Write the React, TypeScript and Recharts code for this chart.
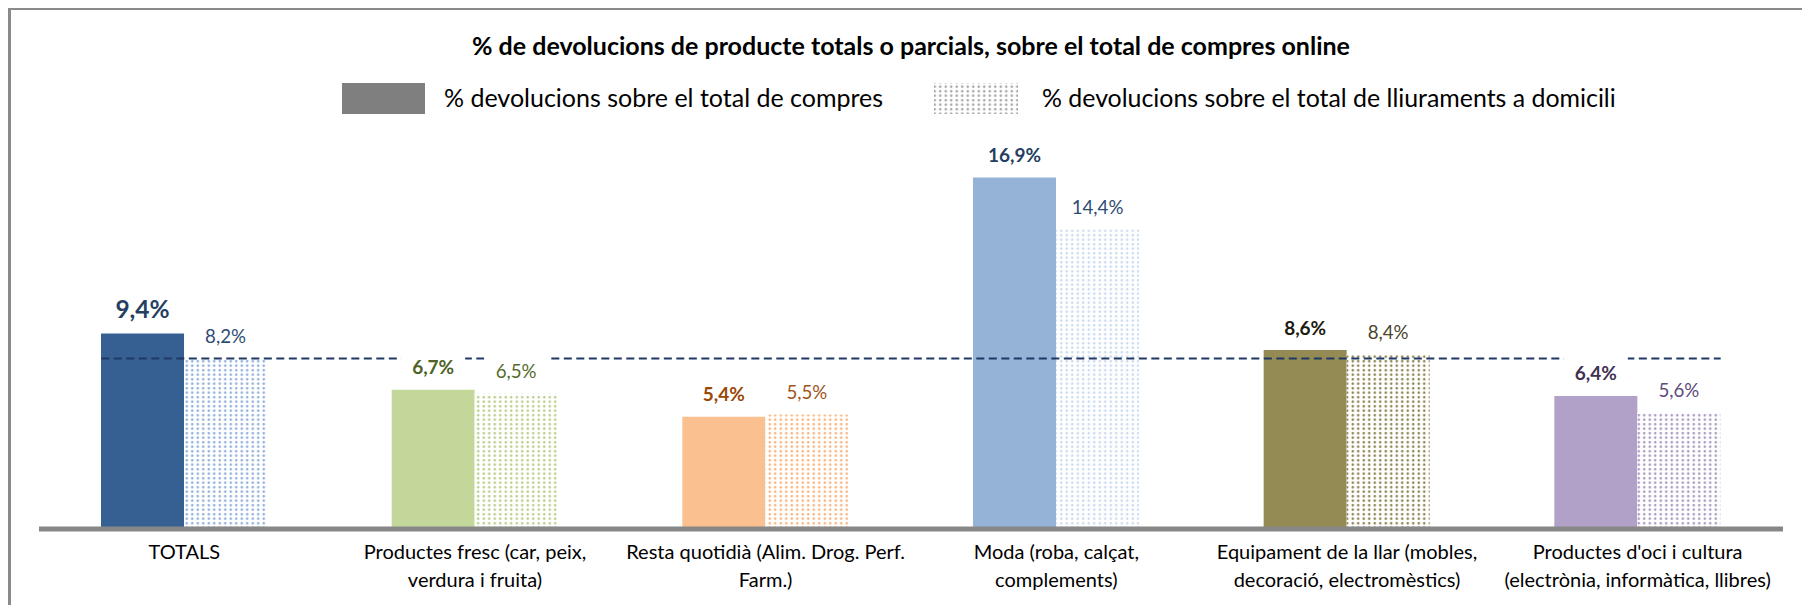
import React from 'react';
import { BarChart, Bar, XAxis, YAxis, Cell, LabelList, ReferenceLine } from 'recharts';

const categories = [
  'TOTALS',
  'Productes fresc (car, peix, verdura i fruita)',
  'Resta quotidià (Alim. Drog. Perf. Farm.)',
  'Moda (roba, calçat, complements)',
  'Equipament de la llar (mobles, decoració, electromèstics)',
  "Productes d'oci i cultura (electrònia, informàtica, llibres)",
];
const tickLines = [
  ['TOTALS'],
  ['Productes fresc (car, peix,', 'verdura i fruita)'],
  ['Resta quotidià (Alim. Drog. Perf.', 'Farm.)'],
  ['Moda (roba, calçat,', 'complements)'],
  ['Equipament de la llar (mobles,', 'decoració, electromèstics)'],
  ["Productes d'oci i cultura", '(electrònia, informàtica, llibres)'],
];
const compres = [9.4, 6.7, 5.4, 16.9, 8.6, 6.4];
const lliuraments = [8.2, 6.5, 5.5, 14.4, 8.4, 5.6];
const referenceValue = 8.2;

const title = '% de devolucions de producte totals o parcials, sobre el total de compres online';
const legendNames = ['% devolucions sobre el total de compres', '% devolucions sobre el total de lliuraments a domicili'];

const solidColors = ['#366092', '#C4D79B', '#FAC090', '#95B3D7', '#948A54', '#B1A0C7'];
const dotColors = ['#8FAEDA', '#B5CE87', '#F9B27A', '#C9DAEF', '#8C8250', '#A897C0'];
const labelColors1 = ['#243F60', '#4F6228', '#984807', '#243F60', '#1D1B10', '#3F3151'];
const labelColors2 = ['#2E4C74', '#566B2E', '#A0541A', '#2E4C74', '#4A452A', '#604A7B'];

const data = categories.map((c, i) => ({ name: c, compres: compres[i], lliuraments: lliuraments[i] }));

const fmt = (v: number) => v.toFixed(1).replace('.', ',') + '%';

const FONT = 'Lato, "Noto Sans", sans-serif';

const gapFrac = 0.2144;

const makeLabel = (series: number) => (props: any) => {
  const { x, y, width, value, index } = props;
  const cx = Number(x) + Number(width) / 2;
  const base = Number(y) - 15.5;
  const bold = series === 0;
  const size = bold ? (index === 0 ? 24.5 : 19) : 18.7;
  const color = series === 0 ? labelColors1[index] : labelColors2[index];
  return (
    <g>
      <rect x={cx - 32} y={base - 24} width={64} height={32} fill="#ffffff" />
      <text x={cx} y={base} textAnchor="middle" fontFamily={FONT} fontWeight={bold ? 700 : 400} fontSize={size} fill={color}>
        {fmt(Number(value))}
      </text>
    </g>
  );
};

const Tick = (props: any) => {
  const { x, y, payload } = props;
  const lines = tickLines[payload.index] || [String(payload.value)];
  return (
    <g>
      {lines.map((l, i) => (
        <text key={i} x={x} y={y + 30 + i * 27.6} textAnchor="middle" fontFamily={FONT} fontSize={20} fill="#000">
          {l}
        </text>
      ))}
    </g>
  );
};

const TrimmedLine = (props: any) => {
  const { x1, x2, y1, y2, stroke, strokeWidth, strokeDasharray } = props;
  const band = (Number(x2) - Number(x1)) / categories.length;
  const a = Number(x1) + band * gapFrac;
  const b = Number(x2) - band * gapFrac;
  return <line x1={a} x2={b} y1={y1} y2={y2} stroke={stroke} strokeWidth={strokeWidth} strokeDasharray={strokeDasharray} />;
};

export default function App() {
  return (
    <div style={{ position: 'relative', width: 1802, height: 597 }}>
      <div style={{ position: 'absolute', left: 0, top: -1, width: 1802, height: 598, borderTop: '3px solid #8a8a8a', borderLeft: '3px solid #8a8a8a', boxSizing: 'border-box' }} />
      <BarChart width={1802} height={597} data={data} margin={{ top: 105, right: 27, bottom: 0, left: 31 }} barGap={0} barSize={83}>
        <defs>
          {dotColors.map((c, i) => (
            <pattern key={i} id={`dots${i}`} width={5.5} height={4.5} patternUnits="userSpaceOnUse">
              <rect width={5.5} height={4.5} fill="#ffffff" />
              <circle cx={2.75} cy={2.25} r={1.25} fill={c} />
            </pattern>
          ))}
        </defs>
        <XAxis dataKey="name" axisLine={{ stroke: '#878787', strokeWidth: 5 }} tickLine={false} tickSize={0} tickMargin={0} height={76} tick={<Tick />} interval={0} />
        <YAxis hide domain={[0, 20]} />
        <Bar dataKey="compres" isAnimationActive={false}>
          {data.map((d, i) => (
            <Cell key={i} fill={solidColors[i]} />
          ))}
          <LabelList dataKey="compres" content={makeLabel(0)} />
        </Bar>
        <Bar dataKey="lliuraments" isAnimationActive={false}>
          {data.map((d, i) => (
            <Cell key={i} fill={`url(#dots${i})`} />
          ))}
          <LabelList dataKey="lliuraments" content={makeLabel(1)} />
        </Bar>
        <ReferenceLine
          y={referenceValue}
          stroke="#1F3864"
          strokeWidth={2}
          strokeDasharray="8 4.5"
          shape={<TrimmedLine />}
        />
      </BarChart>
      <svg width={1802} height={120} style={{ position: 'absolute', left: 0, top: 0, pointerEvents: 'none' }}>
        <defs>
          <pattern id="legendDots" width={5.5} height={4.5} patternUnits="userSpaceOnUse">
            <rect width={5.5} height={4.5} fill="#ffffff" />
            <circle cx={2.75} cy={2.25} r={1.25} fill="#A6A6A6" />
          </pattern>
        </defs>
        <text x={903} y={47} textAnchor="middle" fontFamily={FONT} fontWeight={700} fontSize={25} fill="#000">
          {title}
        </text>
        <rect x={334} y={75} width={83} height={31} fill="#7F7F7F" />
        <text x={436} y={99} fontFamily={FONT} fontSize={25} fill="#000">
          {legendNames[0]}
        </text>
        <rect x={926} y={75} width={84} height={31} fill="url(#legendDots)" />
        <text x={1034} y={99} fontFamily={FONT} fontSize={24.9} fill="#000">
          {legendNames[1]}
        </text>
      </svg>
    </div>
  );
}
